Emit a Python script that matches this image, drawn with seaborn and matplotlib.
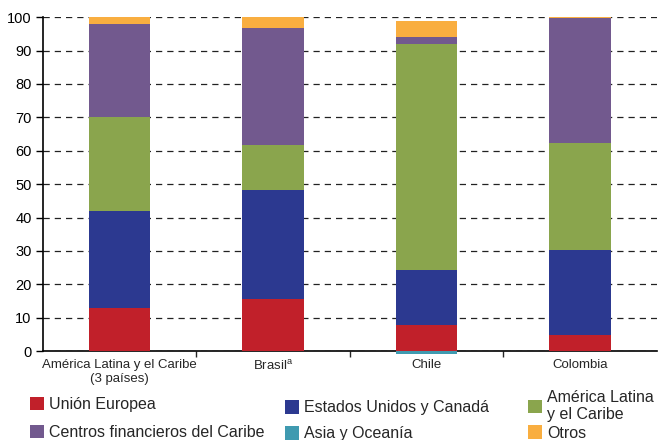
import pandas as pd
import seaborn as sns
import matplotlib.pyplot as plt
from matplotlib.patches import Patch

categories = ['América Latina y el Caribe\n(3 países)', 'Brasil$^{\\mathregular{a}}$', 'Chile', 'Colombia']
union_europea = [13.0, 15.7, 7.7, 4.7]
eeuu_canada = [29.0, 32.5, 16.5, 25.5]
america_latina = [28.0, 13.5, 67.8, 32.0]
centros_fin = [28.0, 35.0, 2.0, 37.4]
asia_oceania = [0.0, 0.0, -0.8, 0.0]
otros = [2.0, 3.3, 4.8, 0.4]

series = ['Unión Europea', 'Estados Unidos y Canadá', 'América Latina\ny el Caribe',
          'Centros financieros del Caribe', 'Asia y Oceanía', 'Otros']
values = [union_europea, eeuu_canada, america_latina, centros_fin, asia_oceania, otros]
colors = ['#C1202A', '#2C3990', '#8AA54D', '#72598E', '#3F9AB0', '#F9AE40']

sns.set_style('white')
plt.rcParams['font.family'] = ['Liberation Sans', 'DejaVu Sans']

fig = plt.figure(figsize=(6.69, 4.40), dpi=100)
ax = fig.add_axes([0.064, 0.202, 0.918, 0.759])

bottom = [0.0] * len(categories)
for name, vals, c in zip(series, values, colors):
    df = pd.DataFrame({'cat': categories, 'v': vals})
    b = [bt if v >= 0 else 0 for bt, v in zip(bottom, vals)]
    sns.barplot(data=df, x='cat', y='v', color=c, bottom=b, width=0.4,
                ax=ax, saturation=1, edgecolor='none', linewidth=0, zorder=3)
    bottom = [bt + max(v, 0) for bt, v in zip(bottom, vals)]

ax.set_ylim(0, 100)
ax.set_xlim(-0.5, 3.5)
ax.set_yticks(range(0, 101, 10))
ax.yaxis.grid(True, linestyle=(0, (5, 4)), color='#222222', linewidth=0.9, zorder=0)
ax.set_axisbelow(True)
ax.set_xlabel('')
ax.set_ylabel('')
for s in ['top', 'right']:
    ax.spines[s].set_visible(False)
for s in ['left', 'bottom']:
    ax.spines[s].set_color('black')
    ax.spines[s].set_linewidth(1.2)
ax.tick_params(axis='y', left=True, length=5, width=1, labelsize=10.5, pad=3, colors='black')
ax.tick_params(axis='x', bottom=False, labelsize=9.5, pad=2)
ax.set_xticks([0.5, 1.5, 2.5], minor=True)
ax.tick_params(axis='x', which='minor', bottom=True, length=4, width=1)
for p in ax.patches:
    p.set_clip_on(False)

# legend entries placed one by one (three columns, two rows)
spots = [(0.045, 0.080), (0.426, 0.073), (0.789, 0.077),
         (0.045, 0.018), (0.426, 0.014), (0.789, 0.016)]
for name, c, (x0, y0) in zip(series, colors, spots):
    fig.legend([Patch(facecolor=c, edgecolor='none')], [name],
               loc='center left', bbox_to_anchor=(x0, y0), frameon=False,
               fontsize=11.5, handlelength=0.9, handleheight=0.9, handletextpad=0.3,
               borderpad=0, borderaxespad=0, labelspacing=0)

fig.savefig('out.png', dpi=100)
